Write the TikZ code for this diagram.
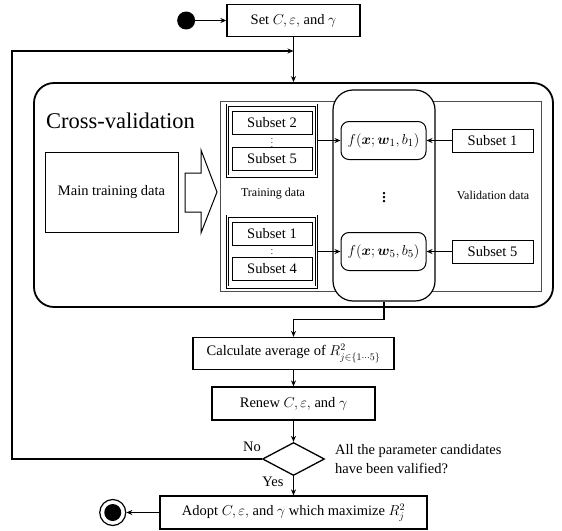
\documentclass[tikz,border=0pt]{standalone}
\usepackage{amsmath,amssymb}
\usepackage{fontspec}
\setmainfont{Liberation Serif}
\usetikzlibrary{positioning,arrows.meta,shapes.geometric}
\tikzset{
    >={Stealth[length=6pt,width=5pt]},
    flow/.style={rectangle, draw, line width=1.3pt, align=center, inner sep=0pt, minimum height=32pt},
    subset/.style={rectangle, draw, line width=1pt, inner sep=0pt, minimum width=80pt, minimum height=23pt},
    group/.style={rectangle, draw, double, double distance=1.4pt, line width=0.8pt, inner sep=0pt, minimum width=89pt, minimum height=71pt},
    model/.style={rectangle, rounded corners=8pt, draw, line width=1pt, fill=white, inner sep=0pt, minimum width=85pt, minimum height=38pt, font=\fontsize{15.5}{18}\selectfont},
    decision/.style={diamond, draw, line width=1.3pt, inner sep=0pt, minimum width=62pt, minimum height=33pt},
    note/.style={font=\fontsize{12}{14}\selectfont, inner sep=0pt},
    link/.style={->, line width=1.2pt}
}

\begin{document}
\begin{tikzpicture}[x=1pt, y=-1pt, font=\fontsize{14.5}{19}\selectfont]
    \useasboundingbox (0,0) rectangle (562,530);

    % top of the flow
    \node[flow, minimum width=133pt] (setp) at (293.5,20.5) {Set $C,\varepsilon,$ and $\gamma$};
    \node[circle, fill, minimum size=18pt, inner sep=0pt, left=31pt of setp] (start) {};

    % cross-validation block
    \node[draw, line width=1.8pt, rounded corners=20pt, minimum width=519pt, minimum height=224pt, inner sep=0pt] (cv) at (293.5,195) {};
    \node[anchor=base west, font=\fontsize{22.5}{24}\selectfont, inner sep=0pt] (cvtitle) at (46,128) {Cross-validation};
    \node[draw=black!70, line width=1pt, minimum width=321pt, minimum height=190pt, inner sep=0pt] (frame) at (380.5,196) {};
    \node[draw, line width=1.2pt, fill=white, rounded corners=20pt, minimum width=102pt, minimum height=211pt, inner sep=0pt] (models) at (384,195.5) {};

    \node[rectangle, draw, line width=1pt, minimum width=133pt, minimum height=80pt, inner sep=0pt] (maindata) at (111.5,192) {Main training data};
    \draw[line width=1pt] (185,173) -- (201,173) -- (201,150) -- (217,192) -- (201,233) -- (201,212) -- (185,212) -- cycle;

    % training subsets
    \node[group] (traintop) at (272,140.5) {};
    \node[subset] (sub2) at (272,122.5) {Subset 2};
    \node[subset] (sub5) at (272,159) {Subset 5};
    \node[inner sep=0pt, font=\fontsize{9}{9}\selectfont] (dotsa) at (272,140.5) {$\vdots$};
    \node[group] (trainbot) at (272,251.5) {};
    \node[subset] (sub1) at (272,233.5) {Subset 1};
    \node[subset] (sub4) at (272,269) {Subset 4};
    \node[inner sep=0pt, font=\fontsize{9}{9}\selectfont] (dotsb) at (272,251.5) {$\vdots$};
    \node[note] (trainlbl) at (273,194) {Training data};

    % models
    \node[model] (fone) at (383.5,140.5) {$f(\boldsymbol{x};\boldsymbol{w}_1,b_1)$};
    \node[model] (ffive) at (383.5,251.5) {$f(\boldsymbol{x};\boldsymbol{w}_5,b_5)$};
    \node[inner sep=0pt, font=\fontsize{20}{20}\selectfont] (dotsc) at (384,195) {$\boldsymbol{\vdots}$};

    % validation subsets
    \node[subset, minimum width=81pt] (valtop) at (492.5,140.5) {Subset 1};
    \node[subset, minimum width=81pt] (valbot) at (492.5,251.5) {Subset 5};
    \node[note] (vallbl) at (493,195) {Validation data};

    % lower part
    \node[flow, minimum width=201pt] (calc) at (293.5,353.5) {Calculate average of $R^2_{j\in\{1\cdots5\}}$};
    \node[flow, minimum width=163pt, minimum height=33pt] (renew) at (293.5,403.5) {Renew $C,\varepsilon,$ and $\gamma$};
    \node[decision] (check) at (293.5,459) {};
    \node[anchor=west, align=left, inner sep=0pt] (ask) at (335,459) {All the parameter candidates\\have been valified?};
    \node[flow, minimum width=267pt, minimum height=33pt] (adopt) at (293.5,512.5) {Adopt $C,\varepsilon,$ and $\gamma$ which maximize $R_j^2$};
    \node[circle, draw, line width=1.2pt, minimum size=26pt, inner sep=0pt, left=33pt of adopt] (stop) {};
    \node[circle, fill, minimum size=17pt, inner sep=0pt] (stopdot) at (stop) {};

    \coordinate (join) at (293.5,51);
    \coordinate (loopcorner) at (12,51);

    \draw[link] (start) -- (setp);
    \draw[link] (setp.south) -- (setp.south |- cv.north);
    \draw[link] (traintop) -- (fone);
    \draw[link] (trainbot) -- (ffive);
    \draw[link] (valtop) -- (fone);
    \draw[link] (valbot) -- (ffive);
    \draw[link] (models.south) -- ++(0,18) -| (calc.north);
    \draw[link] (calc) -- (renew);
    \draw[link] (renew) -- (check);
    \draw[link] (check) -- (adopt) node[pos=0.3, left=6pt] {Yes};
    \draw[link] (check.west) -| (loopcorner) -- (join);
    \node (nolbl) at (252,447) {No};
    \draw[link] (adopt) -- (stop);
\end{tikzpicture}
\end{document}
